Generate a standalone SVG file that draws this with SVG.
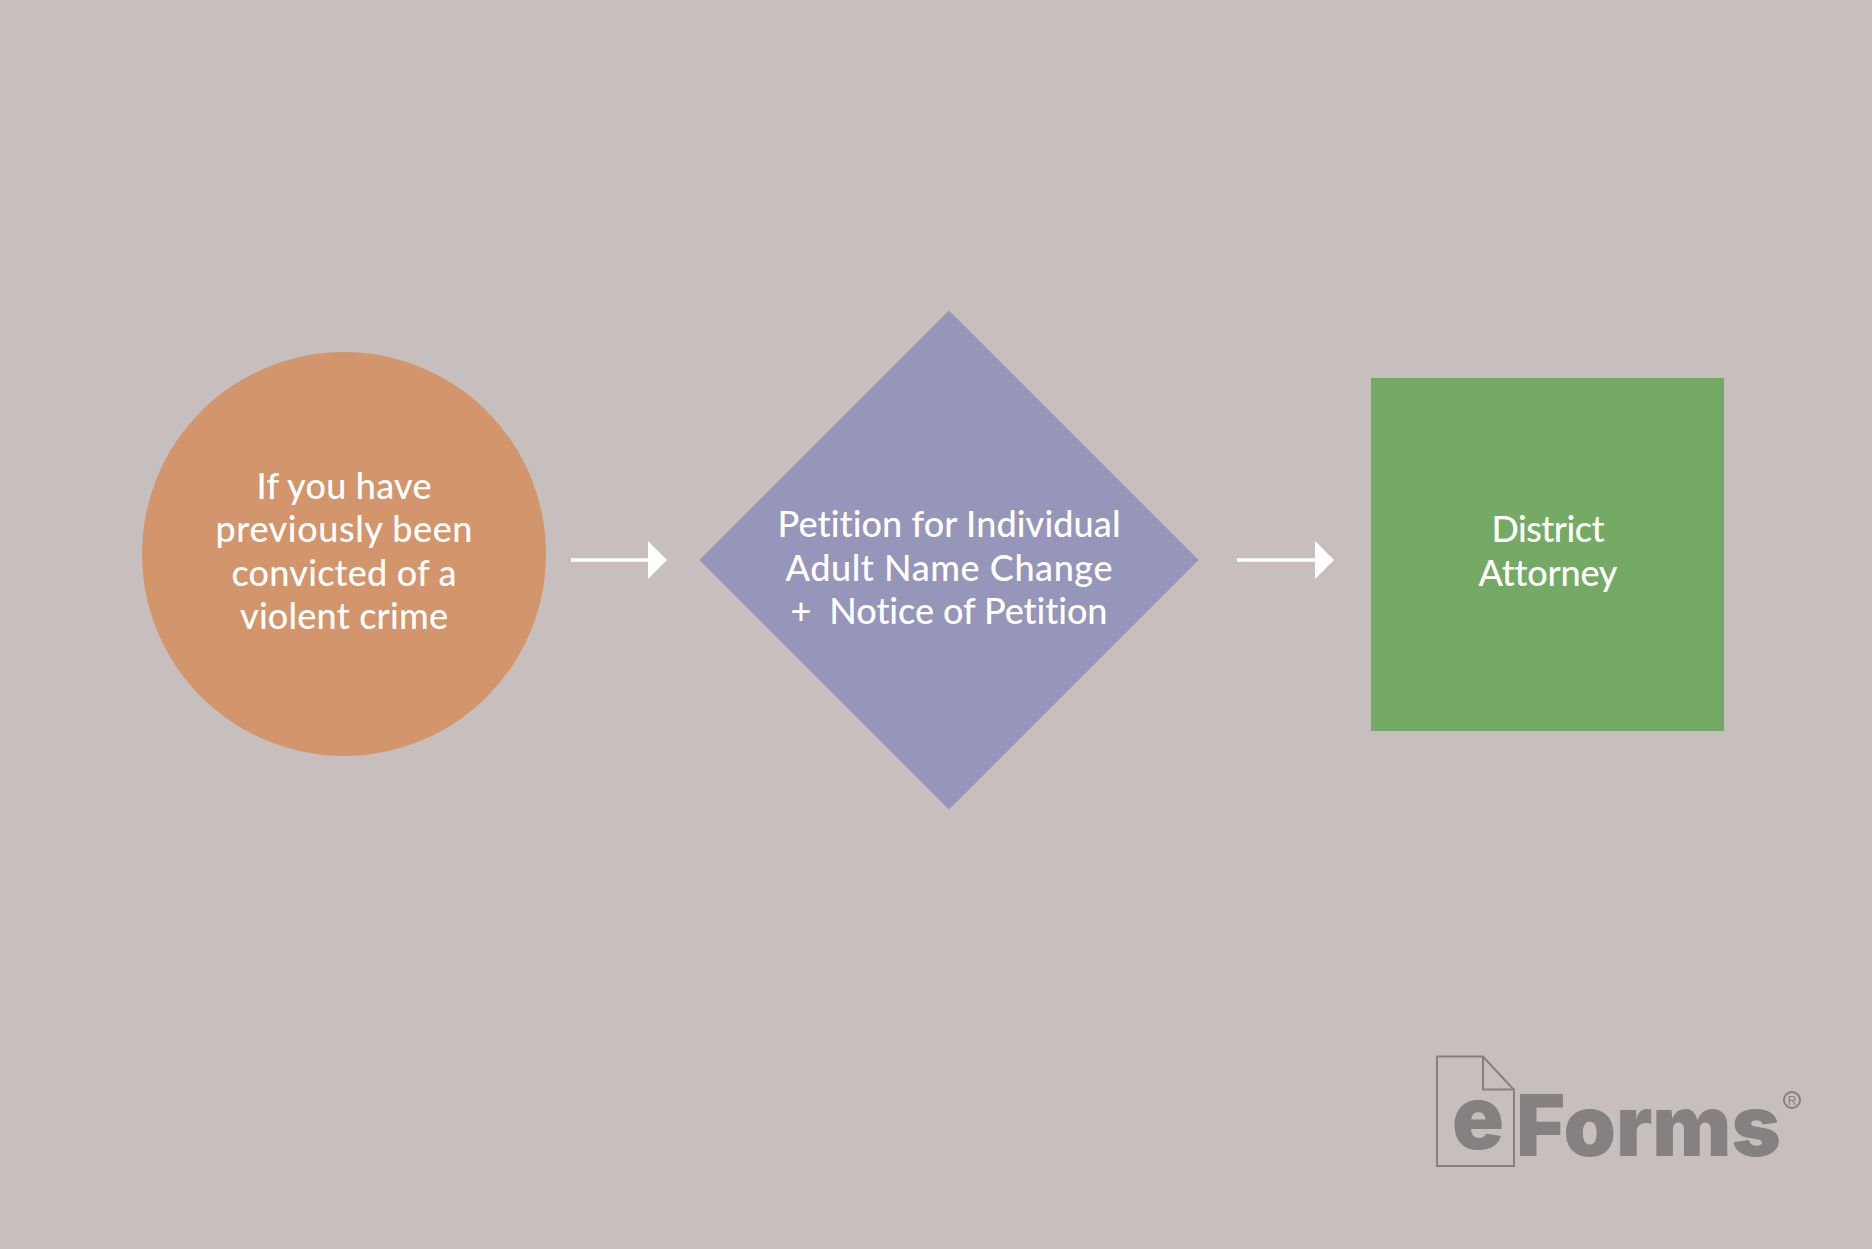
<svg xmlns="http://www.w3.org/2000/svg" width="1872" height="1249" viewBox="0 0 1872 1249">
<style>
.l{font-family:"Lato","Liberation Sans",sans-serif;font-size:36px;font-weight:500;font-variant-ligatures:none;fill:#fff;text-anchor:middle}
.a{stroke:#fff;stroke-width:3.5;fill:none}
.h{fill:#fff}
.lg{font-family:"Inter","Liberation Sans",sans-serif;font-weight:900;fill:#858180}
.ls{fill:none;stroke:#858180;stroke-width:2}
</style>
<rect width="1872" height="1249" fill="#c7bfbd"/>
<g id="connectors">
<path class="a" d="M571 560H650"/><path class="h" d="M648 541L667 560L648 579Z"/>
<path class="a" d="M1237 560H1317"/><path class="h" d="M1315 541L1334 560L1315 579Z"/>
</g>
<g id="node-circle">
<circle cx="344" cy="554" r="202" fill="#d2956c"/>
<text class="l" x="344" y="499" textLength="175">If you have</text>
<text class="l" x="344" y="542" textLength="257">previously been</text>
<text class="l" x="344" y="586" textLength="225">convicted of a</text>
<text class="l" x="344" y="629" textLength="208">violent crime</text>
</g>
<g id="node-diamond">
<path d="M949 310.500L1198.500 560L949 809.500L699.500 560Z" fill="#9695ba"/>
<text class="l" x="949" y="537" textLength="343">Petition for Individual</text>
<text class="l" x="949" y="580.500" textLength="327">Adult Name Change</text>
<text class="l" x="949" y="624" xml:space="preserve" textLength="317">+  Notice of Petition</text>
</g>
<g id="node-square">
<rect x="1371" y="378" width="353" height="353" fill="#74aa66"/>
<text class="l" x="1548" y="542" textLength="113">District</text>
<text class="l" x="1548" y="586" textLength="139">Attorney</text>
</g>
<g id="logo">
<path class="ls" d="M1437 1056.500H1483L1514 1090V1166H1437Z"/>
<path class="ls" d="M1483 1056.500V1089.500H1514"/>
<text class="lg" x="1452" y="1149" font-size="88" textLength="52" lengthAdjust="spacingAndGlyphs">e</text>
<text class="lg" x="1516" y="1156" font-size="85" textLength="265" lengthAdjust="spacingAndGlyphs">Forms</text>
<circle class="ls" cx="1792" cy="1100" r="8" stroke-width="1"/>
<text x="1792" y="1104.500" font-family="Liberation Sans, sans-serif" font-size="12" fill="#858180" text-anchor="middle">R</text>
</g>
</svg>
